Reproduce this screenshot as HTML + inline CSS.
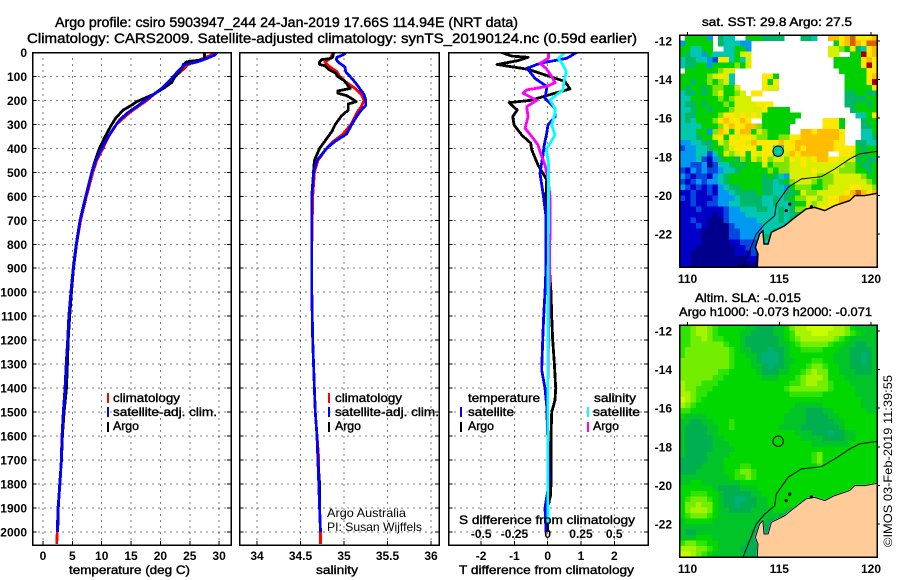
<!DOCTYPE html>
<html>
<head>
<meta charset="utf-8">
<title>Argo profile</title>
<style>
html,body{margin:0;padding:0;background:#fff}
svg{display:block}
text{font-family:"Liberation Sans",sans-serif;fill:#000}
.b{font-weight:bold;font-size:12px}
.t{font-size:14px;stroke:#000;stroke-width:.4}
.l{font-size:12px;stroke:#000;stroke-width:.4}
</style>
</head>
<body>
<svg id="fig" xmlns="http://www.w3.org/2000/svg" width="900" height="580" viewBox="0 0 900 580">
<rect width="900" height="580" fill="#fff"/>
<text class="t" x="55" y="27" textLength="463" lengthAdjust="spacingAndGlyphs">Argo profile: csiro 5903947_244 24-Jan-2019 17.66S 114.94E (NRT data)</text>
<text class="t" x="27" y="43" textLength="610" lengthAdjust="spacingAndGlyphs">Climatology: CARS2009. Satellite-adjusted climatology: synTS_20190124.nc (0.59d earlier)</text>
<g id="layer"></g>
<text class="l" x="69" y="574" textLength="121" lengthAdjust="spacingAndGlyphs">temperature (deg C)</text>
<text class="l" x="316" y="574" textLength="42" lengthAdjust="spacingAndGlyphs">salinity</text>
<text class="l" x="459" y="574" textLength="175" lengthAdjust="spacingAndGlyphs">T difference from climatology</text>
<text class="l" x="459" y="524" textLength="176" lengthAdjust="spacingAndGlyphs">S difference from climatology</text>

<rect x="107" y="393" width="2" height="10" fill="#f00"/>
<text class="l" x="113" y="402" textLength="67" lengthAdjust="spacingAndGlyphs">climatology</text>
<rect x="107" y="407" width="2" height="10" fill="#00f"/>
<text class="l" x="113" y="416" textLength="104" lengthAdjust="spacingAndGlyphs">satellite-adj. clim.</text>
<rect x="107" y="422" width="2" height="10" fill="#000"/>
<text class="l" x="113" y="430" textLength="26" lengthAdjust="spacingAndGlyphs">Argo</text>

<rect x="328" y="393" width="2" height="10" fill="#f00"/>
<text class="l" x="335" y="402" textLength="67" lengthAdjust="spacingAndGlyphs">climatology</text>
<rect x="328" y="407" width="2" height="10" fill="#00f"/>
<text class="l" x="335" y="416" textLength="104" lengthAdjust="spacingAndGlyphs">satellite-adj. clim.</text>
<rect x="328" y="422" width="2" height="10" fill="#000"/>
<text class="l" x="335" y="430" textLength="26" lengthAdjust="spacingAndGlyphs">Argo</text>
<text x="327" y="517" font-size="12" textLength="79" lengthAdjust="spacingAndGlyphs">Argo Australia</text>
<text x="327" y="531" font-size="12" textLength="95" lengthAdjust="spacingAndGlyphs">PI: Susan Wijffels</text>

<text class="l" x="468" y="402" textLength="72" lengthAdjust="spacingAndGlyphs">temperature</text>
<rect x="460" y="407" width="2" height="10" fill="#00f"/>
<text class="l" x="468" y="416" textLength="46" lengthAdjust="spacingAndGlyphs">satellite</text>
<rect x="460" y="422" width="2" height="10" fill="#000"/>
<text class="l" x="468" y="430" textLength="26" lengthAdjust="spacingAndGlyphs">Argo</text>
<text class="l" x="594" y="402" textLength="42" lengthAdjust="spacingAndGlyphs">salinity</text>
<rect x="587" y="407" width="2" height="10" fill="#0ff"/>
<text class="l" x="593" y="416" textLength="47" lengthAdjust="spacingAndGlyphs">satellite</text>
<rect x="587" y="422" width="2" height="10" fill="#f0f"/>
<text class="l" x="593" y="430" textLength="26" lengthAdjust="spacingAndGlyphs">Argo</text>

<text class="l" x="702" y="26" textLength="150" lengthAdjust="spacingAndGlyphs">sat. SST: 29.8 Argo: 27.5</text>
<text class="l" x="695" y="302" textLength="106" lengthAdjust="spacingAndGlyphs">Altim. SLA: -0.015</text>
<text class="l" x="679" y="316" textLength="193" lengthAdjust="spacingAndGlyphs">Argo h1000: -0.073 h2000: -0.071</text>
<text x="892" y="547" font-size="12" transform="rotate(-90 892 547)" textLength="172" lengthAdjust="spacingAndGlyphs">©IMOS 03-Feb-2019 11:39:55</text>
</svg>
<script>
// ---------- profile data (depth in dbar) ----------
const tClimDepth=[0,10,25,40,50,70,100,125,150,175,200,250,300,350,400,450,500,600,700,800,900,1000,1100,1200,1300,1400,1500,1600,1700,1800,1900,2000,2050];
const tClimVal=[29,28.7,27.3,25.6,24.7,23.9,22.5,21.4,20.3,18.9,17.7,14.8,12.5,11.2,10.2,9.15,8.5,7.4,6.4,5.7,5.2,4.8,4.5,4.2,3.95,3.75,3.5,3.25,3.12,2.9,2.56,2.44,2.33];
const tArgoDepth=[0,25,30,39,50,70,100,125,150,175,190,205,220,240,270,300,350,400,450,500,600,700,800,900,1000,1100,1200,1300,1400,1500,1600,1700,1800,1900,2000];
const tArgoVal=[27.5,27.5,27.2,24.5,23.9,23.6,22.5,21.9,20.5,18.8,17.4,16,15.1,13.7,12.5,11.7,10.6,9.6,8.9,8.3,7.3,6.3,5.7,5.2,4.85,4.55,4.3,4.15,4.0,3.6,3.3,3.15,2.85,2.6,2.5];
const tSatDepth=[0,10,25,40,50,70,100,125,150,175,200,225,250,280,300,350,400,450,500,600,700,800,900,1000,1100,1200,1300,1400,1500,1600,1700,1800,1900,2000];
const tSatVal=[29.7,29.3,27.9,26.2,24.2,23.3,22.2,21.3,20.2,18.8,17.4,16,14.5,13.1,12.5,11.1,10,9,8.3,7.27,6.3,5.65,5.15,4.75,4.4,4.2,3.95,3.75,3.46,3.24,3.12,2.9,2.56,2.44];

const sClimDepth=[0,25,40,55,80,100,125,150,175,200,225,250,300,340,370,400,450,500,600,800,1000,1200,1400,1500,1600,1700,1800,1900,2000,2050];
const sClimVal=[34.88,34.84,34.78,34.82,34.92,34.95,35.03,35.13,35.2,35.23,35.2,35.15,35.08,34.99,34.88,34.8,34.7,34.66,34.64,34.63,34.63,34.64,34.66,34.67,34.69,34.71,34.71,34.72,34.73,34.73];
const sArgoDepth=[0,20,25,30,40,50,55,70,85,100,120,140,150,160,170,180,195,205,215,240,265,300,330,350,400,450,500,600,800,1000,1200,1400,1500,1600,1700,1800,1900,2000];
const sArgoVal=[34.88,34.87,34.84,34.74,34.72,34.72,34.78,34.82,34.9,34.93,35.01,35.05,35.07,34.93,34.93,35.03,35.1,35.14,35.05,35.05,34.97,34.9,34.86,34.82,34.72,34.66,34.65,34.63,34.63,34.63,34.64,34.66,34.67,34.69,34.7,34.72,34.72,34.73];
const sSatDepth=[0,10,20,30,45,60,80,100,125,150,175,200,220,240,265,300,340,370,400,450,500,600,800,1000,1200,1400,1500,1600,1700,1800,1900,2000];
const sSatVal=[35.02,34.99,34.92,34.91,34.95,35.01,35.02,35.07,35.13,35.18,35.23,35.25,35.25,35.2,35.15,35.09,35.03,34.9,34.8,34.69,34.65,34.63,34.63,34.63,34.64,34.66,34.67,34.69,34.7,34.71,34.72,34.73];

const dTArgoDepth=[0,15,20,34,50,70,100,121,152,170,200,209,240,268,302,344,378,406,469,531,600,725,800,900,1000,1100,1200,1300,1400,1450,1500,1600,1800,1850,1900,2000];
const dTArgoVal=[-1.38,-1.08,-0.59,-0.89,-1.52,-0.59,0.07,0.52,0.67,0.22,-0.53,-1.16,-0.92,-1.05,-1.01,-0.78,-0.51,-0.48,-0.29,-0.03,-0.05,-0.05,0,0.05,0.1,0.12,0.15,0.2,0.24,0.22,0.12,0.1,0.1,0.08,0,0];
const dTSatDepth=[0,24,45,66,108,142,191,233,268,302,337,392,427,504,586,684,900,1000,1100,1200,1325,1400,1475,1600,1700,1780,1830,1900,2000];
const dTSatVal=[0.87,0.57,-0.23,-0.62,-0.38,-0.02,-0.08,0.22,0.22,0.01,-0.03,-0.11,-0.14,-0.23,-0.14,-0.05,-0.05,-0.08,-0.12,-0.15,-0.18,-0.08,-0.03,0,0.02,0.04,0,-0.08,-0.05];
const dSArgoDepth=[0,24,45,66,100,126,142,156,170,200,226,268,316,358,386,434,469,531,600,725,1000,1400,1500,1880];
const dSArgoVal=[0.005,0.005,-0.058,-0.013,0.03,0.055,-0.008,-0.158,-0.185,-0.083,-0.158,-0.148,-0.17,-0.11,-0.073,-0.045,-0.02,0.003,0.017,0.017,0.012,0,0,0];
const dSSatDepth=[0,24,52,80,128,156,198,233,254,302,344,406,461,725,1000,1500,1800,1960];
const dSSatVal=[0.13,0.08,0.115,0.14,0.12,0.115,0.017,0.055,0.055,0.03,0.055,-0.01,0.005,0.005,0.002,0,0,0.002];

// ---------- tick labels ----------
const depthTicks=[0,100,200,300,400,500,600,700,800,900,1000,1100,1200,1300,1400,1500,1600,1700,1800,1900,2000];
const tempTicks=[0,5,10,15,20,25,30];
const salTicks=[34,34.5,35,35.5,36];
const dTTicks=[-2,-1,0,1,2];
const dSTicks=[-0.5,-0.25,0,0.25,0.5];
const latTicks=[-12,-14,-16,-18,-20,-22];
const lonTicks=[110,115,120];

// ---------- map data ----------
const sstRows=[
".ggggd.fee..gggffff...ffe..kkjkljjjk",
"dggggg.feeedd...............gjklkjl",
"ggeegg..eeggd..............iihgjfejk",
"gfeedgeeeegii..............ii..ggmjk",
"effeedcjjegei...............gggggjkj",
"effggdgggghgi...............gggggjmj",
".gggggghii...................gggggjj",
"ggggghijie.....jjg............ggggjk",
"ggfgghghie.....jgj............ggggjm",
"gfggfghhggi....jii............gggggj",
"effgfghigghi.jj...............ffggff",
"eeggggghghiii.................ffffgg",
"effgfggghgiiiijjj.............ffggfg",
"eefggfggghiiiiijgggg...........fgggg",
"effgggghjjijijiggggggg..........eegj",
"efeggghjkjjkj..gggggg.....jjjg...fgg",
"eeeeggghjkjjkkhggggg......jjjg...ffg",
"eeeggdhkjgjkkgihgggg..kkjkkkkj...eeg",
"eeefggijgjijjihhgghhjjkkkkkkkj...eef",
"ddeeffgihjjjikjjjjkjjkkkkkkkjj..ffee",
"cddeefgghijjjjgjjeejjkjkkkkkjjjjgfgg",
"dddeecegihijgjijjejikjkkkkk..jjigfgg",
"dddecbdfggfhgihjhiihjijijkkjjiiifgff",
"ddccdaceefgfgggighhhiijiiiiiiihhgffgg",
"cbdcdccdeefggggghghhiiiijiiiihhhggfg",
"dcbccbdefggggggfgfediiiiihhhiiiiihgg",
"cbcdcddefggggggffefghiiihghhiiiiiihg",
"dcbcbcbdeffggggffeedghhhgghiiiijjiih",
"bbcbbcbddeffffgffeeffgihhiiiiijklkjk",
"cbcbbbcdddeffffeefefghhiihijjkkjjjjj",
"bbcbbccddeeffffeefeefggihiijjkjjjjjj",
"bbbcbbbbcddeeeffeefefhhijjjjjjjjjjjj",
"bbbbbbabcdddeeeeeefeffgiijjjjjjjjjjj",
"bbcbbaaacdddddeeeefefeijjjjjjjjjjjjj",
"bbbcbaaaacdddddeeeeffgjjjjjjjjjjjjjj",
"bbbbaaaaaccddddeeffffffffffffffffffff",
"bbbbaaaaaccddddfffdddddddddddddddddd",
"bbbbaaaaabbcccdeeeeeeeeeeeeeeeeeeeee",
"bbbaaaaaaabbccaaaaaaaaaaaaaaaaaaaaaa",
"bbaaaaaaaabbbcaaaaaaaaaaaaaaaaaaaaaa",
"bbaaaaaaaaaabbaaaaaaaaaaaaaaaaaaaaaa",
"bbaaaaaaaaaaaaaaaaaaaaaaaaaaaaaaaaaa"
];
const slaRows=[
"445665433333221112235667777766532222",
"445665433332211112234666777666543222",
"445565443332111111234566666654322222",
"445555554332111111223455555433221122",
"455555555432211101123344443332211112",
"455555555433221000123333333322211012",
"555555555433321000122333443322211012",
"555555555433322101123334554332211112",
"555555544333332111223345655332221112",
"555555443333333222333456665333222222",
"655544433333333333334456655433322222",
"655444333333333333345555555433332222",
"665443333333333333334444443333332222",
"765433333333333333333333333333333222",
"654333333333333333333222223333333222",
"443333333333333333332221112233333322",
"322223333333333333322221111223333333",
"221122333433333333322221111122333333",
"211112233433333333222211111112333333",
"211112233333333333333222111011223333",
"211111223333333333333322221111223333",
"211111222333333333333333222222233333",
"211111222233333333333333333333333333",
"211112222333333333333333453333333333",
"111112223333333333333333453333333333",
"111122223334433333333333343333333333",
"111222223345543333333333333333333333",
"222222222344543333333333333333333333",
"223322222223333333333333333333333333",
"333333211112223333333333333333333333",
"334443321111122333333333333333333333",
"345554321100112233333333333333333333",
"355655321101112233333333333333333333",
"356665322111122223322333333333333333",
"345554322222222222111333333333333333",
"233333222222222211111111111111111111",
"222222222222221111111111111111111111",
"211222222222211111111111111111111111",
"222333222222211111111111111111111111",
"455443322222111111111111111111111111",
"666554322221111111111111111111111111",
"776543222222111111111111111111111111"
];
const coastLon=[113.80,113.84,113.70,113.93,114.11,114.17,114.39,114.57,115.30,115.75,116.47,116.93,117.48,118.02,118.84,119.11,119.66,120.34];
const coastLat=[-23.73,-23.04,-22.69,-22.0,-21.83,-22.52,-22.52,-21.91,-21.57,-21.22,-20.70,-20.62,-20.79,-20.53,-20.27,-20.01,-20.01,-19.89];
const shelfLon=[113.02,113.75,114.21,114.75,114.84,115.48,116.20,117.29,118.02,118.84,119.38,120.34];
const shelfLat=[-23.73,-22.0,-21.48,-21.05,-20.45,-19.58,-19.15,-19.03,-18.63,-18.11,-17.85,-17.72];
const islandLon=[115.38,116.75,115.57];
const islandLat=[-20.79,-20.59,-20.45];
const floatLon=114.94;
const floatLat=-17.66;
const sstColors={a:"#00008c",b:"#0000c8",c:"#0048e0",d:"#0098f0",e:"#00c8b0",f:"#00b868",g:"#00d000",h:"#80e400",i:"#d8f000",j:"#ffe800",k:"#ffbc00",l:"#d86000",m:"#a80000"};
const slaColors=["#00b078","#00b050","#00c428","#00d800","#30e400","#74ee00","#a8f400","#c8ff00"];

// ---------- axis functions ----------
const yDepth=d=>52.5+d*0.2397;
const xTemp=v=>43+v*5.87;
const xSal=v=>257+(v-34)*87;
const xDT=v=>547.7+v*33.3;
const xDS=v=>547.7+v*133;
const xLon=v=>687.5+(v-110)*18.35;
const yLat=(v,off)=>41+off+(-12-v)*19.3;

const NS="http://www.w3.org/2000/svg";
const layer=document.getElementById("layer");
function mk(tag,attrs,parent){
  const el=document.createElementNS(NS,tag);
  for(const k in attrs)el.setAttribute(k,attrs[k]);
  (parent||layer).appendChild(el);
  return el;
}
function label(x,y,str,anchor){
  const el=mk("text",{x:x,y:y,"class":"b","text-anchor":anchor});
  el.textContent=str;
  
  
  return el;
}
function clip(id,x,y,w,h){
  const c=mk("clipPath",{id:id});
  mk("rect",{x:x,y:y,width:w,height:h},c);
}
function panel(key,x0,x1,y0,y1,xs,xFn){
  depthTicks.forEach(d=>{
    const g=mk("line",{x1:x0,x2:x1,y1:yDepth(d),y2:yDepth(d),stroke:"#000","stroke-dasharray":"1 5","shape-rendering":"crispEdges"});
    
    
    const tk=mk("line",{x1:x0,x2:x0+4,y1:yDepth(d),y2:yDepth(d),stroke:"#000","shape-rendering":"crispEdges"});
    
    
    const tk2=mk("line",{x1:x1-4,x2:x1,y1:yDepth(d),y2:yDepth(d),stroke:"#000","shape-rendering":"crispEdges"});
    
    
  });
  xs.forEach(v=>{
    const g=mk("line",{x1:xFn(v),x2:xFn(v),y1:y0,y2:y1,stroke:"#000","stroke-dasharray":"1 5","shape-rendering":"crispEdges"});
    
    
    const tk=mk("line",{x1:xFn(v),x2:xFn(v),y1:y1-4,y2:y1,stroke:"#000","shape-rendering":"crispEdges"});
    
    
  });
  clip("clip-"+key,x0,y0,x1-x0,y1-y0);
}
function frame(x0,x1,y0,y1){
  const f=mk("rect",{x:x0,y:y0,width:x1-x0,height:y1-y0,fill:"none",stroke:"#000","stroke-width":1.5,"shape-rendering":"crispEdges"});
  
  
}
function series(key,name,depth,vals,xFn,color){
  const pts=depth.map((d,i)=>xFn(vals[i]).toFixed(1)+","+yDepth(d).toFixed(1)).join(" ");
  const l=mk("polyline",{points:pts,fill:"none",stroke:color,"stroke-width":2.8,"clip-path":"url(#clip-"+key+")","shape-rendering":"crispEdges","stroke-linejoin":"round"});
  
  
}

// ---------- profile panels ----------
const Y0=52.5,Y1=545;
panel("t",32.5,231,Y0,Y1,tempTicks,xTemp);
panel("s",239.5,439,Y0,Y1,salTicks,xSal);
panel("d",448.5,648,Y0,Y1,dTTicks,xDT);

series("t","temperature-climatology-line",tClimDepth,tClimVal,xTemp,"#f00");
series("t","temperature-argo-line",tArgoDepth,tArgoVal,xTemp,"#000");
series("t","temperature-satellite-line",tSatDepth,tSatVal,xTemp,"#00f");
series("s","salinity-climatology-line",sClimDepth,sClimVal,xSal,"#f00");
series("s","salinity-argo-line",sArgoDepth,sArgoVal,xSal,"#000");
series("s","salinity-satellite-line",sSatDepth,sSatVal,xSal,"#00f");
series("d","t-difference-argo-line",dTArgoDepth,dTArgoVal,xDT,"#000");
series("d","t-difference-satellite-line",dTSatDepth,dTSatVal,xDT,"#00f");
series("d","s-difference-argo-line",dSArgoDepth,dSArgoVal,xDS,"#f0f");
series("d","s-difference-satellite-line",dSSatDepth,dSSatVal,xDS,"#0ff");

frame(32.5,231,Y0,Y1);
frame(239.5,439,Y0,Y1);
frame(448.5,648,Y0,Y1);

depthTicks.forEach(d=>label(27,yDepth(d)+4.5,String(d),"end"));
tempTicks.forEach(v=>label(xTemp(v),560,String(v),"middle"));
salTicks.forEach(v=>label(xSal(v),560,String(v),"middle"));
dTTicks.forEach(v=>label(xDT(v),560,String(v),"middle"));
dSTicks.forEach(v=>label(xDS(v),538,String(v),"middle"));

// ---------- maps ----------
const MX0=679.5,MX1=877,CW=5.5,CH=5.53;
function drawMap(key,off,rows,colorOf,coastStroke){
  const y0=35+off,y1=267+off;
  clip("clip-"+key,MX0,y0,MX1-MX0,y1-y0);
  const g=mk("g",{"clip-path":"url(#clip-"+key+")"});
  
  
  rows.forEach((row,r)=>{
    for(let c=0;c<36;c++){
      const ch=row[Math.min(c,row.length-1)];
      const col=colorOf(ch);
      if(!col)continue;
      const cell=mk("rect",{x:MX0+c*CW,y:y0+r*CH,width:CW+.5,height:CH+.5,fill:col,"shape-rendering":"crispEdges"},g);
      
      
    }
  });
  const landPts=coastLon.map((v,i)=>xLon(v).toFixed(1)+","+yLat(coastLat[i],off).toFixed(1));
  landPts.push(xLon(120.34).toFixed(1)+","+yLat(-23.8,off).toFixed(1));
  landPts.push(xLon(113.8).toFixed(1)+","+yLat(-23.8,off).toFixed(1));
  const land=mk("polygon",{points:landPts.join(" "),fill:"#ffcc99",stroke:coastStroke,"stroke-width":1.4},g);
  
  
  const coastLine=mk("polyline",{points:coastLon.map((v,i)=>xLon(v).toFixed(1)+","+yLat(coastLat[i],off).toFixed(1)).join(" "),fill:"none",stroke:"#000","stroke-width":1},g);
  
  
  islandLon.forEach((v,i)=>{
    const isl=mk("circle",{cx:xLon(v),cy:yLat(islandLat[i],off),r:1.6,fill:"#000"},g);
    
    
  });
  const shelf=mk("polyline",{points:shelfLon.map((v,i)=>xLon(v).toFixed(1)+","+yLat(shelfLat[i],off).toFixed(1)).join(" "),fill:"none",stroke:"#000","stroke-width":1},g);
  
  
  const dot=mk("circle",{cx:xLon(floatLon),cy:yLat(floatLat,off)+1,r:5.2,fill:key==="sst"?"#00c8a0":"none",stroke:"#000","stroke-width":1},g);
  
  
  const fr=mk("rect",{x:MX0,y:y0,width:MX1-MX0,height:y1-y0,fill:"none",stroke:"#000","stroke-width":1.5,"shape-rendering":"crispEdges"});
  
  
  lonTicks.forEach(v=>{
    const t=mk("line",{x1:xLon(v),x2:xLon(v),y1:y0-3,y2:y0,stroke:"#000","shape-rendering":"crispEdges"});
    
    
    label(xLon(v),283+off,String(v),"middle");
  });
  latTicks.forEach(v=>{
    const t=mk("line",{x1:MX1,x2:MX1+3,y1:yLat(v,off),y2:yLat(v,off),stroke:"#000","shape-rendering":"crispEdges"});
    
    
    label(672,yLat(v,off)+4.5,String(v),"end");
  });
}
drawMap("sst",0,sstRows,ch=>sstColors[ch],"#000");
drawMap("sla",290,slaRows,ch=>slaColors[+ch],"#fff");
</script>
</body>
</html>
